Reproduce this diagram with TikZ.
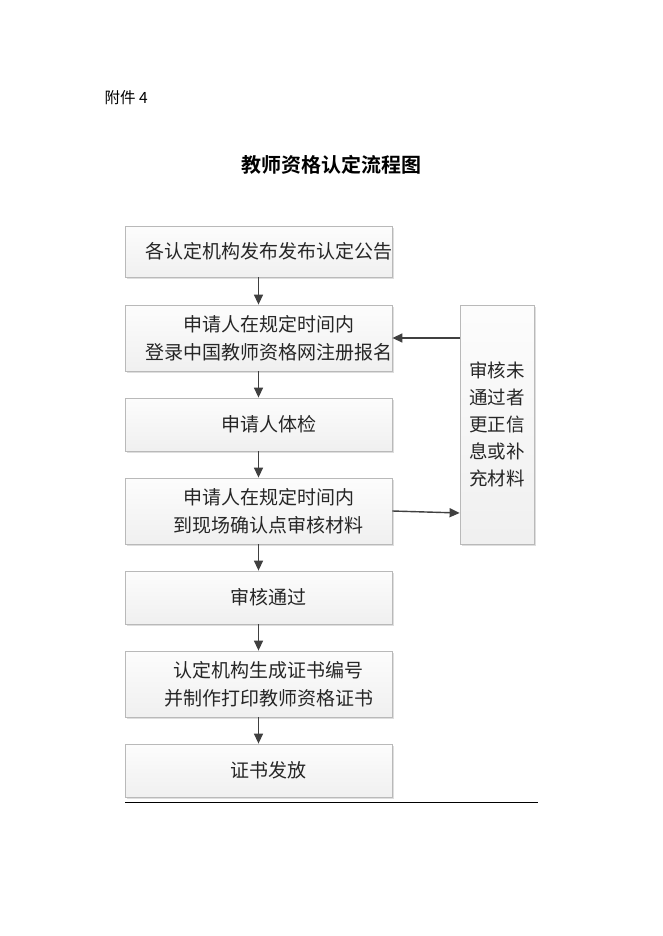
\documentclass[tikz,border=0pt]{standalone}
\usepackage{fontspec}
\setmainfont{Noto Sans CJK SC}
\newfontfamily\cjkb{Noto Sans CJK SC Bold}
\usetikzlibrary{arrows.meta,shadows}
\newcommand\rsh{\hspace*{20pt}}
\begin{document}
\begin{tikzpicture}[x=1pt,y=-1pt,
  flowbox/.style={draw=gray!55, line width=0.8pt, top color=gray!2, bottom color=gray!12,
    drop shadow={shadow xshift=2pt, shadow yshift=-2pt, fill=gray!50, opacity=0.5},
    minimum width=267pt, inner sep=0pt, align=center,
    font=\fontsize{19}{28}\selectfont, text=black!85},
  flowarrow/.style={draw=black!75, line width=1.4pt, -{Triangle[length=10pt,width=9pt]}}]
\useasboundingbox[fill=white] (0,0) rectangle (662,936);

\node[anchor=west, font=\fontsize{15.5}{18}\selectfont] (att) at (101,98) {附件 4};
\node[font=\cjkb\fontsize{20}{24}\selectfont] (title) at (331,165) {教师资格认定流程图};

\node[flowbox, minimum height=51pt] (b1) at (258.5,251.5) {\rsh 各认定机构发布发布认定公告};
\node[flowbox, minimum height=66pt] (b2) at (258.5,338) {\rsh 申请人在规定时间内\\\rsh 登录中国教师资格网注册报名};
\node[flowbox, minimum height=53pt] (b3) at (258.5,424.5) {\rsh 申请人体检};
\node[flowbox, minimum height=66pt] (b4) at (258.5,511) {\rsh 申请人在规定时间内\\\rsh 到现场确认点审核材料};
\node[flowbox, minimum height=53pt] (b5) at (258.5,597.5) {\rsh 审核通过};
\node[flowbox, minimum height=66pt] (b6) at (258.5,684) {\rsh 认定机构生成证书编号\\\rsh 并制作打印教师资格证书};
\node[flowbox, minimum height=53pt] (b7) at (258.5,770.5) {\rsh 证书发放};
\node[flowbox, minimum width=74pt, minimum height=239pt, font=\fontsize{18.5}{27}\selectfont] (rb) at (497,424.5)
  {审核未\\通过者\\更正信\\息或补\\充材料};

\draw[flowarrow] (b1) -- (b2);
\draw[flowarrow] (b2) -- (b3);
\draw[flowarrow] (b3) -- (b4);
\draw[flowarrow] (b4) -- (b5);
\draw[flowarrow] (b5) -- (b6);
\draw[flowarrow] (b6) -- (b7);
\draw[flowarrow] (rb.west |- b2.east) -- (b2.east);
\draw[flowarrow] (b4.east) -- ([yshift=-2pt]rb.west |- b4.east);

\coordinate (ls) at (125,802);
\coordinate (le) at (538,802);
\draw[line width=1pt] (ls) -- (le);
\end{tikzpicture}
\end{document}
